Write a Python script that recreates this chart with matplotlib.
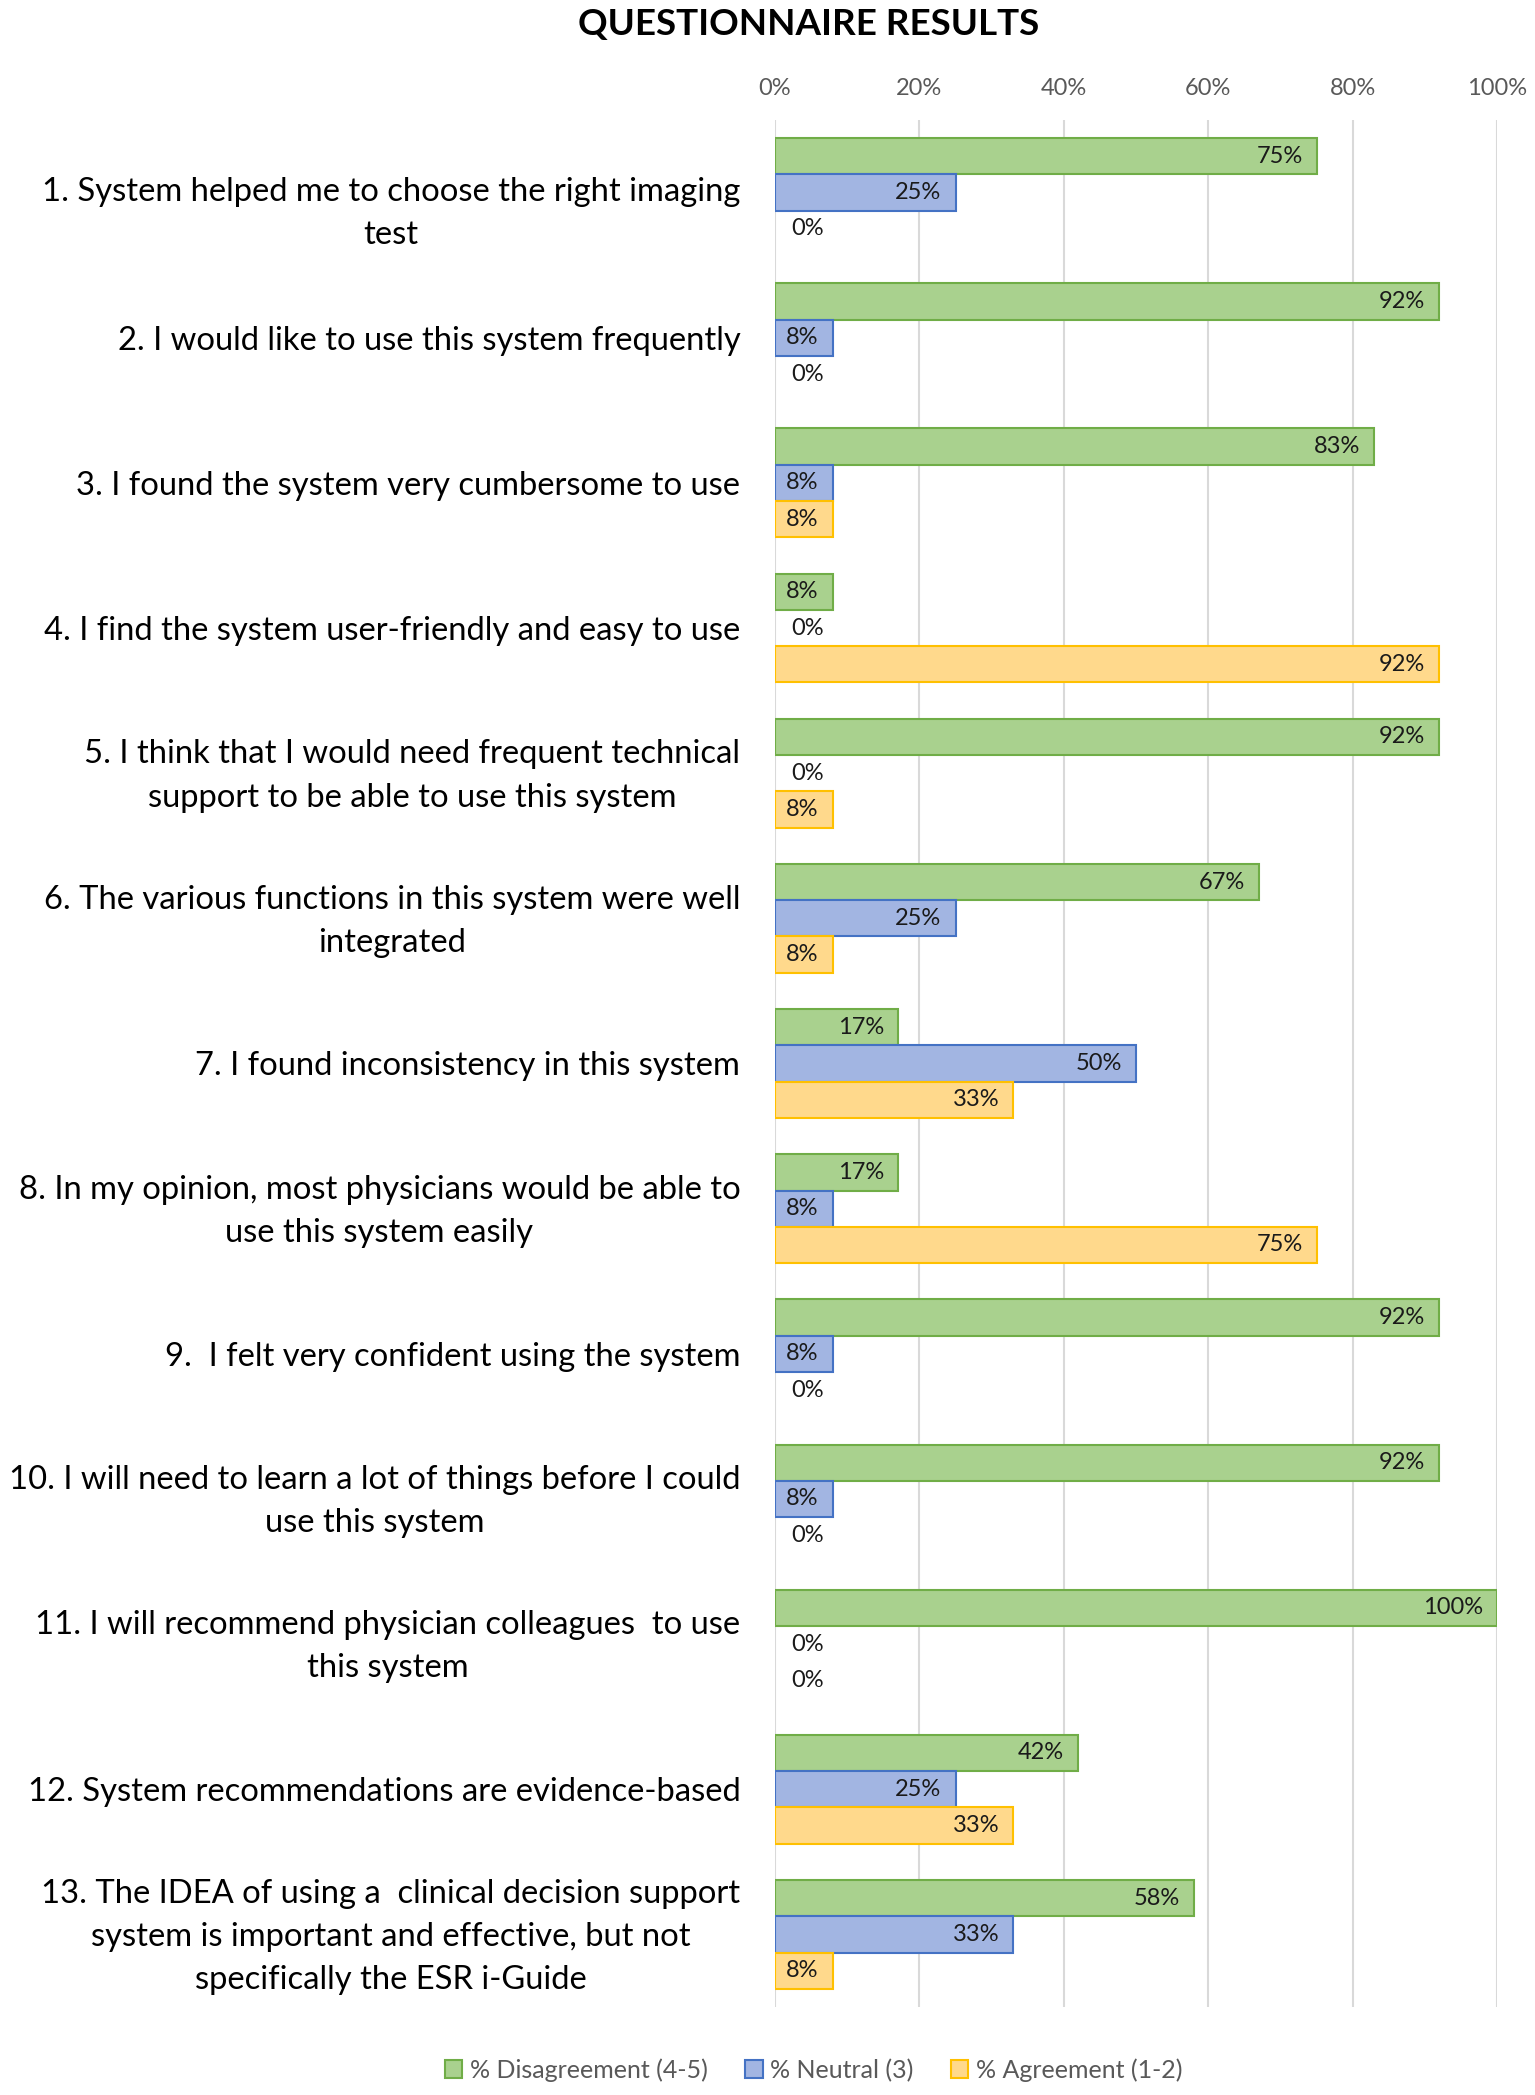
import matplotlib
matplotlib.use("Agg")
import matplotlib.pyplot as plt
from matplotlib.patches import Patch
import numpy as np

categories = [
    "1. System helped me to choose the right imaging\ntest",
    "2. I would like to use this system frequently",
    "3. I found the system very cumbersome to use",
    "4. I find the system user-friendly and easy to use",
    "5. I think that I would need frequent technical\nsupport to be able to use this system",
    "6. The various functions in this system were well\nintegrated",
    "7. I found inconsistency in this system",
    "8. In my opinion, most physicians would be able to\nuse this system easily",
    "9.  I felt very confident using the system",
    "10. I will need to learn a lot of things before I could\nuse this system",
    "11. I will recommend physician colleagues  to use\nthis system",
    "12. System recommendations are evidence-based",
    "13. The IDEA of using a  clinical decision support\nsystem is important and effective, but not\nspecifically the ESR i-Guide",
]
disagreement = [75, 92, 83, 8, 92, 67, 17, 17, 92, 92, 100, 42, 58]
neutral = [25, 8, 8, 0, 0, 25, 50, 8, 8, 8, 0, 25, 33]
agreement = [0, 0, 8, 92, 8, 8, 33, 75, 0, 0, 0, 33, 8]
series_names = ["% Disagreement (4-5)", "% Neutral (3)", "% Agreement (1-2)"]
x_ticks = [0, 20, 40, 60, 80, 100]

fills = ["#A9D18E", "#A2B5E2", "#FFD98C"]
edges = ["#70AD47", "#4472C4", "#FFC000"]

plt.rcParams['font.family'] = ['Lato', 'DejaVu Sans']

W, H = 1535, 2095
fig = plt.figure(figsize=(W / 100, H / 100), dpi=100)
ax = fig.add_axes([775 / W, 1 - 2007 / H, (1497 - 775) / W, (2007 - 120) / H])

n = len(categories)
y = np.arange(n)
bh = 0.25
all_series = [disagreement, neutral, agreement]
for k, vals in enumerate(all_series):
    pos = y + (k - 1) * bh
    lws = [1.5 if v > 0 else 0 for v in vals]
    ax.barh(pos, vals, height=bh, color=fills[k], edgecolor=edges[k],
            linewidth=lws, zorder=3)
    for p, v in zip(pos, vals):
        if v < 6:
            ax.annotate(f"{v}%", xy=(0, p), xytext=(12, 0),
                        textcoords="offset points", ha="left", va="center",
                        fontsize=17, color="#1a1a1a", zorder=4)
        else:
            ax.annotate(f"{v}%", xy=(v, p), xytext=(-10, 0),
                        textcoords="offset points", ha="right", va="center",
                        fontsize=17, color="#1a1a1a", zorder=4)

ax.set_xlim(0, 100)
ax.set_ylim(n - 0.5, -0.5)
ax.set_xticks(x_ticks)
ax.set_xticklabels([f"{t}%" for t in x_ticks], fontsize=17, color="#595959")
ax.xaxis.tick_top()
ax.tick_params(axis="x", length=0, pad=15)
ax.set_yticks(y)
ax.set_yticklabels([])
ax.tick_params(axis="y", length=0)

# category labels (first one sits slightly low in the original)
for i, lab in enumerate(categories):
    dy = -15 if i == 0 else -2
    ax.annotate(lab, xy=(0, y[i]), xytext=(-25, dy), textcoords="offset points",
                ha="right", va="center", fontsize=23.6, color="#000000",
                multialignment="center", linespacing=1.55,
                annotation_clip=False)

ax.grid(axis="x", color="#D9D9D9", linewidth=1.5, zorder=0)
for s in ax.spines.values():
    s.set_visible(False)

fig.text(0.527, 1 - 25 / H, "QUESTIONNAIRE RESULTS", ha="center", va="center",
         fontsize=26.5, fontweight="bold", color="#000000")

handles = [Patch(facecolor=fills[k], edgecolor=edges[k], linewidth=1.5,
                 label=series_names[k]) for k in range(3)]
fig.legend(handles=handles, loc="center", bbox_to_anchor=(0.53, 1 - 2070 / H),
           ncol=3, frameon=False, fontsize=18, labelcolor="#595959",
           handlelength=0.7, handleheight=0.7, handletextpad=0.3,
           columnspacing=1.5)

fig.savefig("out.png", dpi=100)
